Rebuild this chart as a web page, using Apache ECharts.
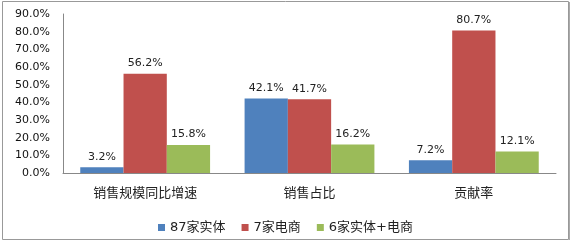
<!DOCTYPE html>
<html><head><meta charset="utf-8">
<script src="https://cdn.jsdelivr.net/npm/echarts@6/dist/echarts.min.js"></script>
<style>html,body{margin:0;padding:0;background:#fff}#c{width:571px;height:242px}</style>
</head><body><div id="c"></div>
<script>
const categories = ['销售规模同比增速', '销售占比', '贡献率'];
const seriesNames = ['87家实体', '7家电商', '6家实体+电商'];
const s87 = [3.2, 42.1, 7.2];
const s7 = [56.2, 41.7, 80.7];
const s6 = [15.8, 16.2, 12.1];
const colors = ['#4F81BD', '#C0504D', '#9BBB59'];

const chart = echarts.init(document.getElementById('c'));
const mk = (name, data, color) => ({
  name, type: 'bar', data,
  itemStyle: { color },
  barGap: '0%', barCategoryGap: '21%',
  label: { show: true, position: 'top', distance: 5, formatter: p => p.value.toFixed(1) + '%',
    fontFamily: 'DejaVu Sans', fontSize: 11, color: '#222' }
});
chart.setOption({
  animation: false,
  graphic: [
    { type: 'rect', shape: { x: 2.5, y: 1.5, width: 566, height: 238 },
      style: { fill: 'none', stroke: '#999', lineWidth: 1 }, z: -1 },
    { type: 'line', shape: { x1: 569.5, y1: 2, x2: 569.5, y2: 240 },
      style: { stroke: '#aaa', lineWidth: 1 }, z: -1 }
  ],
  grid: { left: 63, right: 15, top: 14, bottom: 69 },
  legend: { top: 216, left: 'center', itemWidth: 7, itemHeight: 7, itemGap: 16, icon: 'rect',
    textStyle: { fontFamily: 'DejaVu Sans, Noto Sans CJK SC', fontSize: 13, color: '#222' } },
  xAxis: { type: 'category', data: categories,
    axisLine: { lineStyle: { color: '#888' } }, axisTick: { show: false },
    axisLabel: { margin: 13, fontFamily: 'Noto Sans CJK SC', fontSize: 13, color: '#222' } },
  yAxis: { type: 'value', min: 0, max: 90, interval: 10,
    axisLine: { show: true, lineStyle: { color: '#888' } }, axisTick: { show: false },
    splitLine: { show: false },
    axisLabel: { margin: 13, formatter: v => v.toFixed(1) + '%', fontFamily: 'DejaVu Sans', fontSize: 11, color: '#111' } },
  series: [mk(seriesNames[0], s87, colors[0]), mk(seriesNames[1], s7, colors[1]), mk(seriesNames[2], s6, colors[2])]
});
</script></body></html>
